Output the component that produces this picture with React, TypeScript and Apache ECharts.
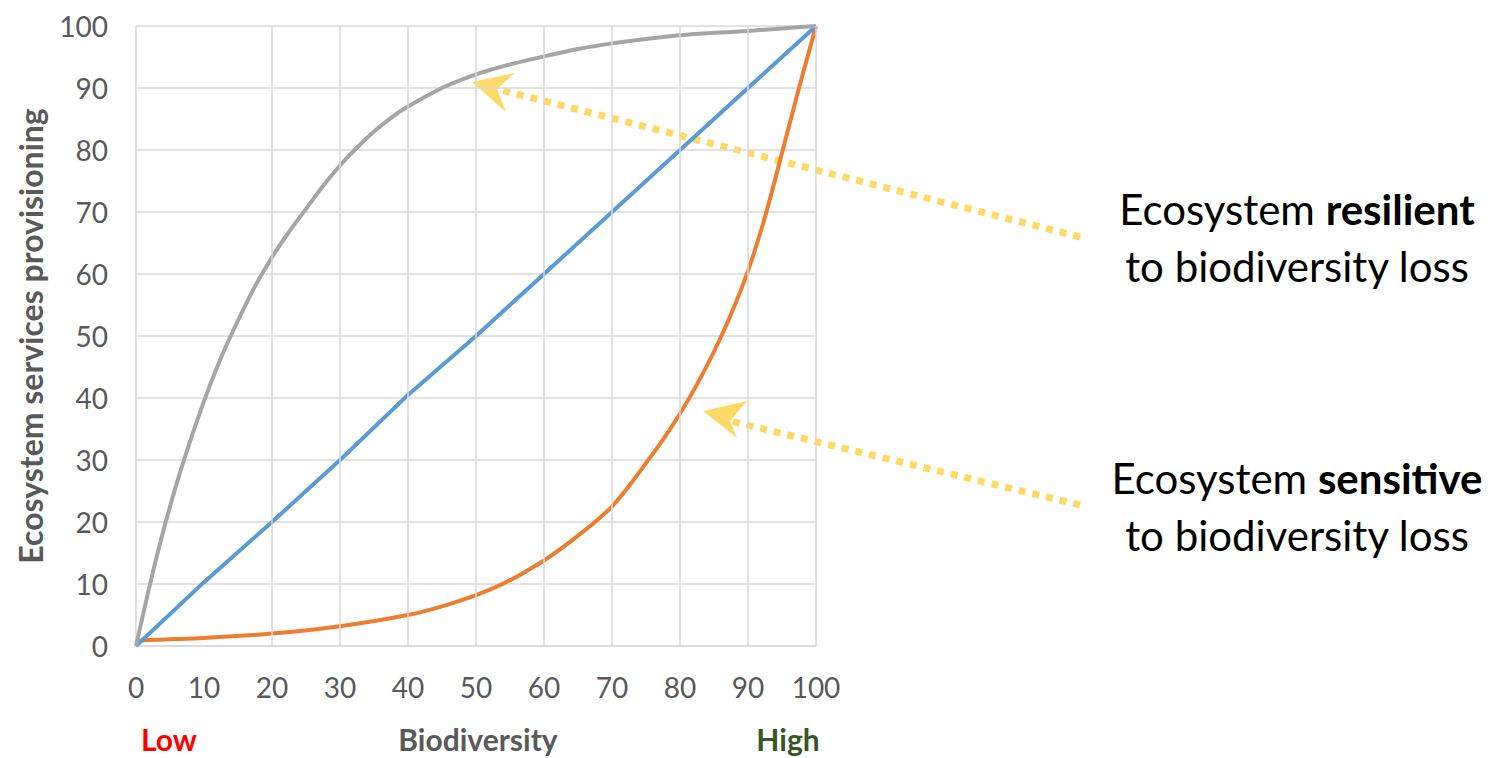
import React, { useEffect, useRef } from "react";
import * as echarts from "echarts";

const resilientX = [0, 2.5, 5, 7.5, 10, 12.5, 15, 17.5, 20, 22.5, 25, 27.5, 30, 32.5, 35, 37.5, 40, 45, 50, 55, 60, 65, 70, 75, 80, 85, 90, 95, 100];
const resilientValues = [0, 12, 22.5, 31.5, 39.5, 46.5, 52.5, 58, 62.7, 66.8, 70.5, 74.2, 77.5, 80.4, 83, 85.2, 87, 90, 92.2, 93.8, 95.1, 96.3, 97.2, 97.9, 98.5, 98.9, 99.2, 99.6, 100];
const sensitiveX = [0, 10, 20, 30, 40, 45, 50, 55, 60, 62.5, 65, 67.5, 70, 72.5, 75, 77.5, 80, 82.5, 85, 87.5, 90, 92.5, 95, 97.5, 100];
const sensitiveValues = [0.9, 1.3, 2.0, 3.2, 5.0, 6.4, 8.2, 10.6, 13.8, 15.7, 17.8, 20, 22.5, 25.8, 29.5, 33.3, 37.5, 42.2, 47.5, 53.5, 60.5, 69.2, 79.5, 90, 100];
const linearX = [0, 10, 20, 30, 40, 50, 60, 70, 80, 90, 100];
const linearValues = [0, 10.3, 20, 30, 40.5, 50, 60, 70, 80, 90, 100];
const verticalGridAt = [20, 30, 40, 50, 60, 70, 80, 90, 100];

const pairs = (xs: number[], ys: number[]) => xs.map((x, i) => [x, ys[i]]);

const FONT = "Lato";
const YELLOW = "#ffd966";

export default function App() {
  const ref = useRef<HTMLDivElement>(null);
  useEffect(() => {
    if (!ref.current) return;
    const chart = echarts.init(ref.current, undefined, { renderer: "svg" });
    const lineBase = { type: "line", showSymbol: false, smooth: 0.25, silent: true };
    const arrow = (x1: number, y1: number, tip: number[], b1: number[], notch: number[], b2: number[]) => [
      {
        type: "line",
        shape: { x1, y1, x2: notch[0], y2: notch[1] },
        style: { stroke: YELLOW, lineWidth: 7, lineDash: [7, 7], lineCap: "butt" },
      },
      {
        type: "polygon",
        shape: { points: [tip, b1, notch, b2] },
        style: { fill: YELLOW },
      },
    ];
    const rightText = (y: number, word: string) => ({
      type: "text",
      x: 1297,
      y,
      style: {
        text: `Ecosystem {b|${word}}\nto biodiversity loss`,
        fill: "#000000",
        font: `42px ${FONT}`,
        lineHeight: 57,
        align: "center",
        verticalAlign: "middle",
        rich: { b: { fontWeight: "bold", fontSize: 42, fontFamily: FONT, fill: "#000000", lineHeight: 57 } },
      },
    });
    const bottomText = (x: number, text: string, fill: string) => ({
      type: "text",
      x,
      y: 739,
      style: { text, fill, font: `bold 30px ${FONT}`, align: "center", verticalAlign: "middle" },
    });
    const option: any = {
      animation: false,
      backgroundColor: "#ffffff",
      grid: { left: 136, right: 685, top: 26, bottom: 112, containLabel: false },
      xAxis: {
        type: "value",
        min: 0,
        max: 100,
        interval: 10,
        axisLine: { show: true, lineStyle: { color: "#d9d9d9", width: 1.5 } },
        axisTick: { show: false },
        splitLine: { show: false },
        axisLabel: { color: "#595959", fontSize: 28, fontFamily: FONT, margin: 27 },
      },
      yAxis: {
        type: "value",
        min: 0,
        max: 100,
        interval: 10,
        name: "Ecosystem services provisioning",
        nameLocation: "middle",
        nameGap: 90,
        nameTextStyle: { color: "#595959", fontSize: 32, fontWeight: "bold", fontFamily: FONT },
        axisLine: { show: true, lineStyle: { color: "#d9d9d9", width: 1.5 } },
        axisTick: { show: false },
        splitLine: { show: true, lineStyle: { color: "#d9d9d9", width: 1.5 } },
        axisLabel: { color: "#595959", fontSize: 28, fontFamily: FONT, margin: 28 },
      },
      series: [
        {
          type: "line",
          data: [[0, 0]],
          showSymbol: false,
          z: 1,
          lineStyle: { opacity: 0 },
          markLine: {
            silent: true,
            symbol: "none",
            label: { show: false },
            lineStyle: { color: "#d9d9d9", type: "solid", width: 1.5 },
            data: verticalGridAt.map((v) => ({ xAxis: v })),
          },
        },
        { ...lineBase, name: "Sensitive", data: pairs(sensitiveX, sensitiveValues), lineStyle: { color: "#ed7d31", width: 4 } },
        { ...lineBase, name: "Linear", smooth: false, data: pairs(linearX, linearValues), lineStyle: { color: "#5b9bd5", width: 4 } },
        { ...lineBase, name: "Resilient", data: pairs(resilientX, resilientValues), lineStyle: { color: "#a5a5a5", width: 4 } },
      ],
      graphic: [
        ...arrow(1080, 237, [472, 82], [515, 73], [497, 89], [506, 112]),
        ...arrow(1080, 505, [703, 411], [747, 401], [730, 421], [737, 438]),
        bottomText(169, "Low", "#ff0000"),
        bottomText(478, "Biodiversity", "#595959"),
        bottomText(788, "High", "#375623"),
        rightText(237, "resilient"),
        rightText(506, "sensitive"),
      ],
    };
    chart.setOption(option);
    return () => chart.dispose();
  }, []);
  return (
    <div
      ref={ref}
      style={{ position: "fixed", left: 0, top: 0, width: 1501, height: 758, background: "#fff" }}
    />
  );
}
